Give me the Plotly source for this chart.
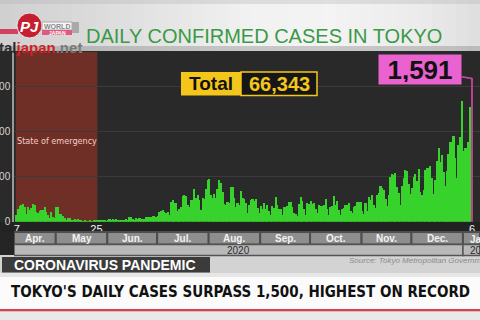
import numpy as np
import pandas as pd
import plotly.graph_objects as go

# ---------------- data ----------------
start_date = "2020-04-07"
cases_apr = [80, 144, 178, 189, 197, 166, 91, 161, 127, 149, 201, 181, 107, 102, 123, 132, 134, 161, 103, 72, 39, 112, 47, 46]
cases_may = [165, 160, 91, 87, 58, 38, 23, 39, 36, 22, 15, 28, 10, 30, 9, 14, 5, 10, 5, 5, 11, 3, 2, 14, 8, 10, 11, 15, 22, 14, 5]
cases_jun = [13, 34, 12, 28, 20, 26, 14, 13, 12, 18, 22, 25, 24, 47, 48, 27, 16, 41, 35, 39, 35, 29, 31, 55, 48, 54, 57, 60, 58, 54]
cases_jul = [67, 107, 124, 131, 111, 102, 106, 75, 224, 243, 206, 206, 119, 143, 165, 286, 293, 290, 188, 168, 237, 238, 366, 260, 295, 239, 131, 266, 250, 367, 463]
cases_aug = [472, 292, 258, 309, 263, 360, 462, 429, 331, 197, 188, 222, 206, 389, 385, 260, 161, 207, 186, 339, 258, 256, 212, 95, 182, 236, 250, 226, 247, 148, 100]
cases_sep = [170, 141, 211, 136, 181, 116, 78, 170, 149, 276, 187, 146, 146, 80, 163, 163, 172, 220, 218, 162, 98, 88, 59, 195, 270, 228, 144, 78, 212, 194]
cases_oct = [235, 196, 207, 143, 102, 186, 177, 172, 187, 249, 146, 78, 166, 177, 284, 185, 235, 132, 78, 139, 150, 185, 186, 203, 124, 102, 158, 171, 221, 215, 215]
cases_nov = [116, 87, 209, 122, 269, 242, 294, 189, 157, 293, 317, 393, 374, 352, 255, 180, 298, 493, 534, 522, 539, 391, 314, 186, 401, 481, 570, 561, 418, 311]
cases_dec = [372, 500, 533, 449, 584, 327, 299, 352, 572, 602, 595, 621, 480, 305, 460, 678, 822, 664, 736, 556, 392, 563, 748, 888, 884, 949, 708, 481, 856, 944, 1337]
cases_jan = [783, 814, 816, 884, 1278, 1591]

month_starts = ["2020-04-01", "2020-05-01", "2020-06-01", "2020-07-01", "2020-08-01",
                "2020-09-01", "2020-10-01", "2020-11-01", "2020-12-01", "2021-01-01"]
month_labels = ["Apr.", "May", "Jun.", "Jul.", "Aug.", "Sep.", "Oct.", "Nov.", "Dec.", "Jan."]
year_labels = ["2020", "2021"]
tick_dates = ["2020-04-07", "2020-05-25", "2021-01-06"]
tick_text = ["7", "25", "6"]
y_ticks = [0, 500, 1000, 1500]
y_tick_text = ["0", "500", "1,000", "1,500"]
emergency = ["2020-04-07", "2020-05-25"]
total_text = "66,343"
emergency_label = "State of emergency"
title_text = "DAILY CONFIRMED CASES IN TOKYO"
band_text = "CORONAVIRUS PANDEMIC"
headline = "TOKYO'S DAILY CASES SURPASS 1,500, HIGHEST ON RECORD"
source_text = "Source: Tokyo Metropolitan Government"

values = cases_apr + cases_may + cases_jun + cases_jul + cases_aug + cases_sep + cases_oct + cases_nov + cases_dec + cases_jan
dates = pd.date_range(start_date, periods=len(values), freq="D")
peak_value = values[-1]
peak_date = dates[-1]

# ---------------- helpers ----------------
W, H = 480, 320
def X(px):
    return px / W
def Y(py):
    return 1 - py / H

COND = "DejaVu Sans Condensed, Liberation Sans Narrow, Arial Narrow, sans-serif"
SANS = "Liberation Sans, Arial, sans-serif"

x_range = [pd.Timestamp("2020-04-05 09:00"), pd.Timestamp("2021-01-10 18:15")]
half = pd.Timedelta(hours=12)

shapes = []
annotations = []

def prect(x0, y0, x1, y1, fill, line=None, lw=0, layer="below"):
    shapes.append(dict(type="rect", xref="paper", yref="paper", x0=X(x0), x1=X(x1), y0=Y(y1), y1=Y(y0),
                       fillcolor=fill, line=dict(color=line or fill, width=lw), layer=layer))

def ptext(x, y, text, size, color, family=None, xanchor="center", bold=False, italic=False):
    t = text
    if bold:
        t = "<b>" + t + "</b>"
    if italic:
        t = "<i>" + t + "</i>"
    annotations.append(dict(xref="paper", yref="paper", x=X(x), y=Y(y), text=t, showarrow=False,
                            xanchor=xanchor, yanchor="middle",
                            font=dict(size=size, color=color, family=family or SANS)))

# ---------------- backgrounds ----------------
prof_x = [0, 100, 250, 330, 420, 480]
prof_v = [208, 220, 242, 244, 236, 222]
n = 40
for i in range(n):
    x0 = i * W / n
    v = int(np.interp(x0 + W / n / 2, prof_x, prof_v))
    prect(x0, 0, x0 + W / n + 0.5, 51, f"rgb({v},{v},{v})")
prect(0, 0, 480, 4, "rgba(180,180,180,0.35)")
prect(0, 46, 480, 51, "rgba(120,120,120,0.35)")

prect(0, 51, 480, 232, "#2a2a2a")
prect(0, 51, 480, 120, "rgba(40,40,40,0.5)")
prect(0, 222, 480, 232, "#222222")
prect(0, 232, 14, 256, "#252525")

prect(0, 255, 480, 276, "#d3d3d3")
prect(2, 257, 210, 272.5, "#3b3b3b")
prect(0, 276, 480, 309, "#fbfbfb")
prect(0, 273, 480, 277, "#e6e6e6")
prect(0, 309, 480, 311.5, "#d6404f")
prect(0, 311.5, 480, 320, "#e9e9e9")

# month boxes
range_end = x_range[1]
for i, ms in enumerate(month_starts):
    m0 = pd.Timestamp(ms) - half
    m1 = (pd.Timestamp(month_starts[i + 1]) - half) if i + 1 < len(month_starts) else range_end
    if i == 0:
        m0 = x_range[0]
    shapes.append(dict(type="rect", xref="x", yref="paper", x0=m0, x1=m1, y0=Y(244.5), y1=Y(232),
                       fillcolor="#8e8e8e", line=dict(color="#4e4e4e", width=2), layer="above"))
    if i + 1 < len(month_starts):
        annotations.append(dict(xref="x", yref="paper", x=m0 + (m1 - m0) / 2, y=Y(238.3),
                                text="<b>" + month_labels[i] + "</b>", showarrow=False,
                                xanchor="center", yanchor="middle",
                                font=dict(size=10, color="#f2f2f2", family=SANS)))
    else:
        annotations.append(dict(xref="x", yref="paper", x=m0 + pd.Timedelta(days=2.8), y=Y(239),
                                text="<b>" + month_labels[i] + "</b>", showarrow=False,
                                xanchor="left", yanchor="middle",
                                font=dict(size=10, color="#f2f2f2", family=SANS)))

# year bar
year_split = pd.Timestamp(month_starts[-1]) - half
shapes.append(dict(type="rect", xref="x", yref="paper", x0=x_range[0], x1=year_split, y0=Y(255.5), y1=Y(244.5),
                   fillcolor="#b9b9b9", line=dict(color="#555555", width=1.5), layer="above"))
shapes.append(dict(type="rect", xref="x", yref="paper", x0=year_split, x1=range_end, y0=Y(255.5), y1=Y(244.5),
                   fillcolor="#b9b9b9", line=dict(color="#555555", width=1.5), layer="above"))
annotations.append(dict(xref="x", yref="paper", x=x_range[0] + (year_split - x_range[0]) / 2, y=Y(250),
                        text=year_labels[0], showarrow=False, xanchor="center", yanchor="middle",
                        font=dict(size=10, color="#2e2e2e", family=SANS)))
annotations.append(dict(xref="x", yref="paper", x=year_split + pd.Timedelta(days=3.0), y=Y(250),
                        text=year_labels[1], showarrow=False, xanchor="left", yanchor="middle",
                        font=dict(size=10, color="#2e2e2e", family=SANS)))

# state of emergency shading
shapes.append(dict(type="rect", xref="x", yref="paper", x0=pd.Timestamp(emergency[0]) - half,
                   x1=pd.Timestamp(emergency[1]) + half, y0=Y(221.7), y1=Y(52),
                   fillcolor="#6f2f26", line=dict(width=0), layer="below"))
annotations.append(dict(xref="x", yref="paper",
                        x=pd.Timestamp(emergency[0]) + (pd.Timestamp(emergency[1]) - pd.Timestamp(emergency[0])) / 2,
                        y=Y(141), text=emergency_label, showarrow=False, xanchor="center", yanchor="middle",
                        font=dict(size=9, color="#f3cfc8", family=COND)))

# ---------------- logo ----------------
prect(0, 29, 18, 34, "#d2425e")
shapes.append(dict(type="circle", xref="paper", yref="paper", x0=X(17), x1=X(42), y0=Y(38), y1=Y(13),
                   fillcolor="#c61f30", line=dict(color="#e6e6e6", width=1), layer="below"))
ptext(29.5, 26, "<i>PJ</i>", 15, "white", bold=True)
prect(42, 22, 72, 30, "#f6f6f6", line="#a8a8a8", lw=1)
ptext(57, 26.3, "WORLD", 7, "#8a8a8a", bold=True)
prect(42, 30, 72, 35, "#e05a80")
ptext(57, 32.6, "JAPAN", 5, "#ffffff", bold=True)
prect(72, 22, 79, 33, "#a9a9a9")
annotations.append(dict(xref="paper", yref="paper", x=X(-3), y=Y(47.5), xanchor="left", yanchor="middle",
                        showarrow=False,
                        text='<b><span style="color:#2a2a2a">tal</span><span style="color:#d21f26">japan</span>'
                             '<span style="color:#7a7a7a">.net</span></b>',
                        font=dict(size=15, family=SANS)))

# ---------------- titles & captions ----------------
ptext(264, 35.5, title_text, 20, "#3a9a45")
ptext(105, 265, band_text, 14, "#ffffff", bold=True)
ptext(347, 260.5, source_text, 8, "#8c8c8c", xanchor="left", italic=True)
ptext(240.5, 291.5, headline, 15, "#111111", bold=True, family=COND)

# Total box
prect(181, 72, 241, 95.5, "#f4c61c", layer="above")
prect(241, 72, 317, 95.5, "#161616", line="#f4c61c", lw=1.5, layer="above")
ptext(211, 84, "Total", 19, "#111111", bold=True)
ptext(279, 84, total_text, 20, "#f4c61c", bold=True)

# peak callout
annotations.append(dict(xref="x", yref="y", x=peak_date, y=peak_value, ax=-52, ay=-9,
                        text="<b>" + f"{peak_value:,}" + "</b>", showarrow=True, arrowhead=0, arrowwidth=1.5,
                        arrowcolor="#cf4aa8", standoff=0, bgcolor="#ea62cf", width=78, height=25, borderpad=2,
                        font=dict(size=26, color="#111111", family=SANS)))

# ---------------- figure ----------------
colors = ["#38d22c"] * (len(values) - 1) + ["#b8408e"]
fig = go.Figure(go.Bar(x=dates, y=values, marker=dict(color=colors, line=dict(width=0)), hoverinfo="skip"))

fig.update_layout(
    width=W, height=H, margin=dict(l=0, r=0, t=0, b=0),
    paper_bgcolor="#d3d3d3", plot_bgcolor="rgba(0,0,0,0)",
    bargap=0, showlegend=False,
    shapes=shapes, annotations=annotations,
    font=dict(family=SANS),
    xaxis=dict(domain=[X(14), 1], range=x_range, type="date", showgrid=False, zeroline=False, showline=False,
               tickmode="array", tickvals=tick_dates, ticktext=tick_text, ticks="",
               tickfont=dict(size=11, color="#f4f4f4"), automargin=False, fixedrange=True,
               ticklabelstandoff=-1),
    yaxis=dict(domain=[Y(221.7), Y(52)], range=[0, 1885], tickmode="array", tickvals=y_ticks, ticktext=y_tick_text,
               showgrid=True, gridcolor="#3b3b3b", gridwidth=1, zeroline=False,
               showline=True, linecolor="#9a9a9a", linewidth=1.5, ticks="",
               tickfont=dict(size=10, color="#d6d6d6"), automargin=False, fixedrange=True),
)

fig.write_html("out.html", config={"displayModeBar": False})
